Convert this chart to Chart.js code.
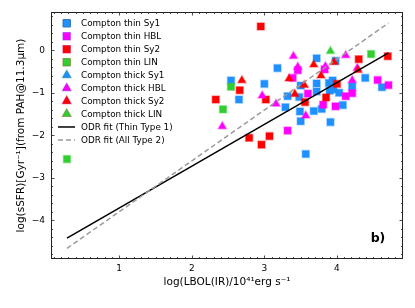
<!DOCTYPE html>
<html>
<head>
<meta charset="utf-8">
<script src="https://cdn.jsdelivr.net/npm/chart.js@4.4.1/dist/chart.umd.min.js"></script>
<style>
html,body{margin:0;padding:0;background:#fff}
#wrap{width:415px;height:308px}
</style>
</head>
<body>
<div id="wrap"><canvas id="grafico" width="415" height="308"></canvas></div>
<script>
// pontos: [log LBOL(IR), log sSFR]
const thinSy1=[[3.72,-0.19],[3.98,-0.25],[3.18,-0.42],[2.54,-0.71],[3.00,-0.79],[3.72,-0.78],[3.89,-0.77],[3.94,-0.71],
[4.21,-0.85],[4.62,-0.87],[4.39,-0.65],[3.72,-0.97],[3.90,-0.95],[3.95,-0.92],[4.03,-1.00],[3.32,-1.08],[3.48,-1.10],
[2.65,-1.16],[3.29,-1.34],[4.08,-1.29],[3.79,-1.38],[3.49,-1.44],[3.68,-1.43],[3.50,-1.67],[3.91,-1.69],[3.57,-2.44],[3.50,-0.83]]
const thinHBL=[[3.46,-0.47],[3.83,-0.45],[3.39,-0.65],[4.56,-0.70],[4.71,-0.82],[3.60,-1.02],[4.21,-1.01],[4.12,-1.08],
[3.81,-1.28],[3.98,-1.32],[3.32,-1.89]]
const thinSy2=[[2.95,0.56],[4.30,-0.21],[4.70,-0.14],[4.00,-0.79],[2.66,-0.94],[3.85,-1.11],[2.33,-1.16],[3.02,-1.16],
[3.56,-1.22],[2.79,-2.06],[3.07,-2.02],[2.96,-2.22]]
const thinLIN=[[4.47,-0.09],[2.54,-0.86],[2.43,-1.39],[0.28,-2.56]]
const thickSy1=[]
const thickHBL=[[3.40,-0.14],[4.12,-0.12],[3.46,-0.39],[4.28,-0.42],[4.21,-0.71],[2.97,-1.07],[3.16,-1.26],[3.57,-1.54],
[2.42,-1.79],[3.84,-0.38]]
const thickSy2=[[3.96,-0.28],[3.68,-0.34],[4.29,-0.47],[3.78,-0.60],[3.34,-0.67],[2.69,-0.71],[3.55,-0.82],[3.42,-1.03]]
const thickLIN=[[3.91,-0.02]]

// retas ODR (extremos)
const odrThin1=[[0.28,-4.42],[4.71,-0.06]]
const odrAll2=[[0.28,-4.66],[4.71,0.64]]

const legendLabels=["Compton thin Sy1","Compton thin HBL","Compton thin Sy2","Compton thin LIN",
"Compton thick Sy1","Compton thick HBL","Compton thick Sy2","Compton thick LIN",
"ODR fit (Thin Type 1)","ODR fit (All Type 2)"]

const xTicks=[1,2,3,4]
const yTicks=[0,-1,-2,-3,-4]

const azul="#1e90ff",rosa="#ff00ff",verm="#ff0000",verde="#32cd32"
const borda={"#1e90ff":"rgba(30,144,255,0.35)","#ff00ff":"rgba(255,0,255,0.35)","#ff0000":"rgba(255,0,0,0.35)","#32cd32":"rgba(50,205,50,0.35)"}

function pts(arr){return arr.map(p=>({x:p[0],y:p[1]}))}

function serie(label,arr,cor,forma,ordem){
return{
type:"scatter",label:label,data:pts(arr),
pointStyle:forma,pointRadius:forma=="rect"?5:4.7,
backgroundColor:cor,borderColor:borda[cor],borderWidth:1.5,
order:ordem
}
}

const datasets=[
serie(legendLabels[0],thinSy1,azul,"rect",9),
serie(legendLabels[1],thinHBL,rosa,"rect",8),
serie(legendLabels[2],thinSy2,verm,"rect",7),
serie(legendLabels[3],thinLIN,verde,"rect",6),
serie(legendLabels[4],thickSy1,azul,"triangle",5),
serie(legendLabels[5],thickHBL,rosa,"triangle",4),
serie(legendLabels[6],thickSy2,verm,"triangle",3),
serie(legendLabels[7],thickLIN,verde,"triangle",2),
{type:"line",label:legendLabels[8],data:pts(odrThin1),borderColor:"#000",borderWidth:1.5,pointRadius:0,order:1},
{type:"line",label:legendLabels[9],data:pts(odrAll2),borderColor:"#9a9a9a",borderWidth:1.5,borderDash:[5,3],pointRadius:0,order:0}
]

const fmt=v=>v<0?"\u2212"+Math.abs(v):String(v)

const moldura={
id:"moldura",
afterDraw(chart){
const {ctx,chartArea:a,scales:{x,y}}=chart
ctx.save()
ctx.strokeStyle="#222"
ctx.lineWidth=1
ctx.strokeRect(a.left+0.5,a.top+0.5,a.right-a.left-1,a.bottom-a.top-1)
ctx.lineWidth=0.8
ctx.beginPath()
for(let i=1;i<=49;i++){
let v=i/10
let px=Math.round(x.getPixelForValue(v))+0.5
if(px<=a.left||px>=a.right)continue
let len=(i%10==0)?3.5:2
ctx.moveTo(px,a.bottom);ctx.lineTo(px,a.bottom-len)
ctx.moveTo(px,a.top);ctx.lineTo(px,a.top+len)
}
for(let i=-24;i<=4;i++){
let v=i/5
let py=Math.round(y.getPixelForValue(v))+0.5
if(py<=a.top||py>=a.bottom)continue
let len=(i%5==0)?3.5:2
ctx.moveTo(a.left,py);ctx.lineTo(a.left+len,py)
ctx.moveTo(a.right,py);ctx.lineTo(a.right-len,py)
}
ctx.stroke()

// legenda dentro do grafico
let y0=23.3,passo=12.96
ctx.font='8.8px "DejaVu Sans"'
ctx.textBaseline="middle"
ctx.textAlign="left"
chart.data.datasets.forEach((d,i)=>{
let yy=y0+i*passo
if(d.type=="scatter"){
Chart.helpers.drawPoint(ctx,{pointStyle:d.pointStyle,radius:d.pointRadius,rotation:0,borderWidth:d.borderWidth},66.7,yy)
ctx.fillStyle=d.backgroundColor
ctx.strokeStyle=d.borderColor
ctx.lineWidth=d.borderWidth
ctx.fill();ctx.stroke()
}else{
ctx.save()
ctx.strokeStyle=d.borderColor
ctx.lineWidth=d.borderWidth
ctx.setLineDash(d.borderDash||[])
ctx.beginPath();ctx.moveTo(58,yy);ctx.lineTo(75,yy);ctx.stroke()
ctx.restore()
}
ctx.fillStyle="#000"
ctx.fillText(d.label,81,yy+0.5)
})

ctx.font='bold 12.5px "DejaVu Sans"'
ctx.textAlign="center"
ctx.fillText("b)",378,239)
ctx.restore()
}
}

Chart.defaults.font.family='"DejaVu Sans"'
Chart.defaults.color="#000"

new Chart(document.getElementById("grafico"),{
type:"scatter",
data:{datasets:datasets},
options:{
responsive:false,
animation:false,
layout:{padding:{top:12,right:12,left:0,bottom:0}},
plugins:{legend:{display:false},tooltip:{enabled:false}},
scales:{
x:{
type:"linear",min:0.06,max:4.91,
afterBuildTicks:s=>{s.ticks=xTicks.map(v=>({value:v}))},
afterFit:s=>{s.height=49},
grid:{display:false,drawTicks:false},
border:{display:false},
ticks:{font:{size:9},padding:4,callback:fmt,maxRotation:0},
title:{display:true,text:"log(LBOL(IR)/10\u2074\u00b9erg s\u207b\u00b9",font:{size:10.5},padding:{top:0,bottom:19}}
},
y:{
type:"linear",min:-4.91,max:0.9,
afterBuildTicks:s=>{s.ticks=yTicks.map(v=>({value:v}))},
afterFit:s=>{s.width=51},
grid:{display:false,drawTicks:false},
border:{display:false},
ticks:{font:{size:9},padding:6,callback:fmt},
title:{display:true,text:"log(sSFR)[Gyr\u207b\u00b9](from PAH@11.3\u03bcm)",font:{size:10.5},padding:{top:15,bottom:0}}
}
}
},
plugins:[moldura]
})
</script>
</body>
</html>
